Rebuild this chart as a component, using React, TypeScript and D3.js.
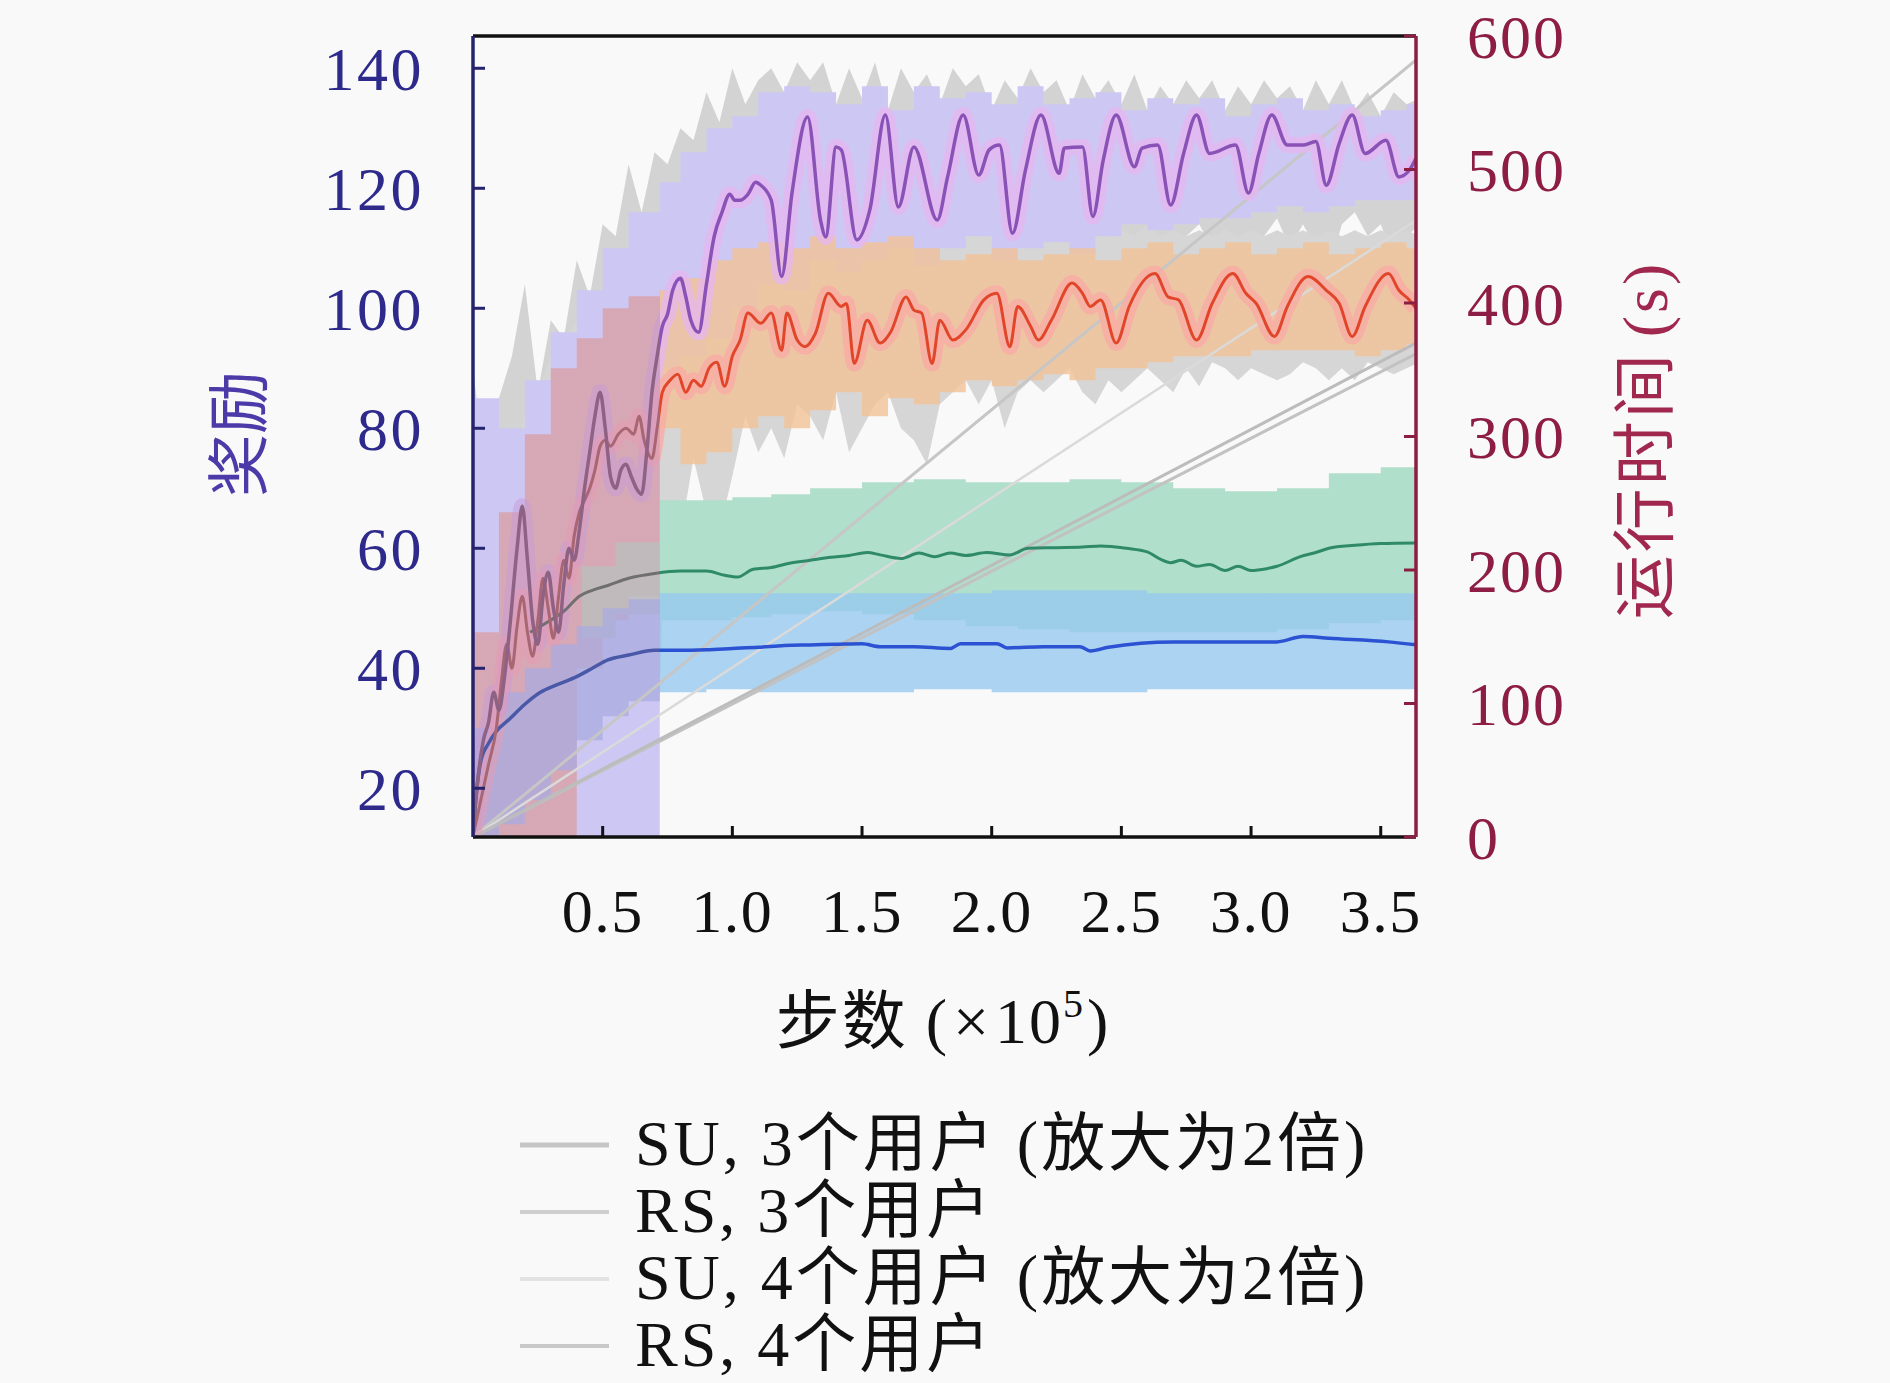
import * as d3 from "d3";

const W = 1890;
const H = 1383;
// plot rectangle in page pixels
const P = { x0: 473, x1: 1416, y0: 36, y1: 837 };
const FONT = "'Liberation Serif', 'Noto Sans CJK SC', serif";

// x in 1e5 steps; left axis reward, right axis runtime (s)
const X_DOMAIN = [0, 3.636];
const YL_DOMAIN = [11.88, 145.38];
const YR_DOMAIN = [0, 600];
const SPLIT_X = 0.72; // early segment drawn in muted colours

const YL_TICKS = [20, 40, 60, 80, 100, 120, 140];
const YR_TICKS = [0, 100, 200, 300, 400, 500, 600];
const X_TICKS = [0.5, 1.0, 1.5, 2.0, 2.5, 3.0, 3.5];

// ---- purple series (reward) ----
const PURPLE_LINE: [number, number][] = [
  [0.0, 13], [0.02, 22], [0.04, 28], [0.06, 31], [0.08, 36], [0.1, 33], [0.12, 38],
  [0.14, 46], [0.17, 60], [0.19, 67], [0.21, 58], [0.23, 48], [0.25, 44], [0.27, 52],
  [0.29, 56], [0.31, 50], [0.33, 46], [0.35, 54], [0.37, 60], [0.39, 58], [0.41, 63],
  [0.43, 70], [0.45, 76], [0.47, 82], [0.49, 86], [0.51, 80], [0.53, 72], [0.55, 70],
  [0.57, 73], [0.59, 74], [0.61, 72], [0.63, 70], [0.65, 69], [0.67, 76], [0.69, 86],
  [0.71, 92], [0.73, 97], [0.75, 99], [0.77, 103], [0.8, 105], [0.82, 102], [0.84, 98],
  [0.87, 96], [0.9, 104], [0.93, 112], [0.96, 116], [0.99, 119], [1.01, 118], [1.03, 118],
  [1.06, 119], [1.09, 121], [1.11, 120.5], [1.15, 118], [1.19, 105.3], [1.23, 119.2],
  [1.29, 131.9], [1.34, 114.7], [1.36, 111.9], [1.4, 126.9], [1.42, 126.4], [1.48, 111.4],
  [1.53, 116.4], [1.59, 132.2], [1.64, 116.9], [1.7, 126.9], [1.79, 114.7], [1.83, 121.9],
  [1.89, 132.2], [1.95, 122.2], [1.99, 126.4], [2.03, 127.2], [2.08, 112.5], [2.13, 123],
  [2.19, 132.2], [2.26, 122.5], [2.28, 126.7], [2.35, 126.9], [2.39, 115.3], [2.43, 124.7],
  [2.48, 132.2], [2.55, 123.6], [2.58, 126.7], [2.64, 127.2], [2.69, 117.2], [2.74, 125.8],
  [2.79, 132.2], [2.84, 125.8], [2.94, 127.2], [2.99, 119.2], [3.03, 125.8], [3.08, 132.2],
  [3.14, 127.2], [3.2, 127.2], [3.25, 127.8], [3.29, 120.5], [3.34, 127.5], [3.39, 132.2],
  [3.44, 125.8], [3.52, 128], [3.57, 121.9], [3.61, 123], [3.636, 125],
];
const PURPLE_BAND_X = [0, 0.1, 0.2, 0.3, 0.4, 0.5, 0.6, 0.72, 0.8, 0.9, 1.0, 1.1, 1.2, 1.3, 1.4, 1.5, 1.6, 1.7, 1.8, 1.9, 2.0, 2.1, 2.2, 2.3, 2.4, 2.5, 2.6, 2.7, 2.8, 2.9, 3.0, 3.1, 3.2, 3.3, 3.4, 3.5, 3.6, 3.64];
const PURPLE_BAND_HI = [85, 80, 88, 96, 103, 110, 116, 121, 126, 130, 132, 136, 137, 136, 134, 137, 133, 137, 135, 136, 134, 137, 134, 135, 136, 133, 135, 134, 135, 132, 134, 135, 133, 134, 132, 133, 134, 134];
const PURPLE_BAND_LO = [12, 12, 12, 12, 12, 12, 12, 90, 92, 95, 100, 104, 103, 108, 106, 108, 110, 107, 110, 112, 108, 110, 111, 109, 112, 114, 113, 114, 115, 115, 116, 117, 116, 117, 118, 118, 118, 118];
// raw min/max envelope [x, lo, hi]
const PURPLE_ENV: [number, number, number][] = [
  [0, 12, 90], [0.05, 12, 72], [0.1, 12, 85], [0.15, 12, 92], [0.2, 12, 104], [0.25, 12, 86],
  [0.3, 12, 98], [0.35, 12, 95], [0.4, 12, 108], [0.45, 12, 102], [0.5, 12, 114], [0.55, 12, 112],
  [0.6, 12, 124], [0.65, 12, 116], [0.7, 12, 126], [0.75, 72, 124], [0.8, 80, 130], [0.85, 76, 128],
  [0.9, 90, 136], [0.95, 86, 131], [1.0, 98, 140], [1.05, 92, 134], [1.1, 100, 138], [1.15, 96, 140],
  [1.2, 94, 136], [1.25, 105, 141], [1.3, 108, 138], [1.35, 100, 141], [1.4, 106, 134], [1.45, 101, 140],
  [1.5, 108, 135], [1.55, 110, 141], [1.6, 104, 133], [1.65, 100, 140], [1.7, 108, 136], [1.75, 105, 139],
  [1.8, 99, 134], [1.85, 110, 140], [1.9, 112, 137], [1.95, 106, 139], [2.0, 110, 133], [2.05, 100, 138],
  [2.1, 98, 135], [2.15, 110, 140], [2.2, 112, 136], [2.25, 106, 138], [2.3, 110, 133], [2.35, 104, 139],
  [2.4, 102, 135], [2.45, 110, 138], [2.5, 112, 134], [2.55, 108, 139], [2.6, 112, 133], [2.65, 108, 137],
  [2.7, 104, 134], [2.75, 112, 138], [2.8, 114, 135], [2.85, 110, 138], [2.9, 112, 133], [2.95, 106, 137],
  [3.0, 104, 134], [3.05, 112, 138], [3.1, 115, 135], [3.15, 110, 137], [3.2, 114, 133], [3.25, 110, 138],
  [3.3, 106, 134], [3.35, 114, 138], [3.4, 116, 133], [3.45, 112, 136], [3.5, 114, 132], [3.55, 108, 136],
  [3.6, 112, 134], [3.65, 114, 135],
];

// ---- orange/red series (reward) ----
const RED_LINE: [number, number][] = [
  [0.0, 12], [0.03, 18], [0.06, 24], [0.09, 30], [0.11, 38], [0.13, 44], [0.15, 40], [0.17, 47],
  [0.19, 52], [0.21, 46], [0.23, 42], [0.25, 48], [0.27, 55], [0.29, 50], [0.31, 45], [0.33, 52],
  [0.35, 58], [0.37, 55], [0.39, 62], [0.41, 66], [0.43, 68], [0.45, 70], [0.47, 73], [0.49, 77],
  [0.51, 78], [0.53, 77], [0.56, 79], [0.59, 80], [0.62, 79], [0.64, 82], [0.66, 78], [0.69, 75],
  [0.71, 80], [0.73, 86], [0.76, 88], [0.79, 89], [0.82, 86], [0.85, 88], [0.88, 87], [0.91, 90],
  [0.94, 91], [0.97, 87], [1.0, 92], [1.03, 94.7], [1.06, 99.2], [1.11, 97.5], [1.15, 99.2],
  [1.19, 93], [1.21, 99.2], [1.25, 94.7], [1.28, 93.6], [1.32, 95.8], [1.37, 102.5], [1.42, 100.3],
  [1.44, 100.8], [1.47, 90.8], [1.52, 98], [1.57, 94.2], [1.61, 96], [1.67, 101.9], [1.7, 99.7],
  [1.73, 99.2], [1.77, 90.8], [1.8, 98], [1.85, 94.7], [1.9, 96.4], [1.97, 101.4], [2.02, 102.5],
  [2.07, 93.6], [2.1, 100.3], [2.15, 97], [2.18, 94.7], [2.23, 98], [2.31, 104.2], [2.35, 102.5],
  [2.38, 100.3], [2.42, 101.4], [2.48, 94.2], [2.53, 100.3], [2.63, 105.8], [2.68, 101.9],
  [2.72, 101.4], [2.79, 94.7], [2.85, 100.8], [2.93, 105.8], [2.98, 102.5], [3.02, 100.8],
  [3.09, 95.3], [3.14, 100.3], [3.22, 105.3], [3.29, 103], [3.34, 100.8], [3.39, 95.3],
  [3.44, 100.3], [3.53, 105.8], [3.57, 103], [3.61, 101.4], [3.636, 100],
];
const RED_BAND_X = [0, 0.1, 0.2, 0.3, 0.4, 0.5, 0.6, 0.72, 0.8, 0.9, 1.0, 1.1, 1.2, 1.3, 1.4, 1.5, 1.6, 1.7, 1.8, 1.9, 2.0, 2.1, 2.2, 2.3, 2.4, 2.5, 2.6, 2.7, 2.8, 2.9, 3.0, 3.1, 3.2, 3.3, 3.4, 3.5, 3.6, 3.64];
const RED_BAND_HI = [46, 66, 79, 90, 95, 100, 102, 103, 105, 108, 110, 111, 110, 112, 110, 111, 112, 110, 108, 109, 110, 108, 109, 110, 108, 110, 111, 109, 110, 111, 109, 110, 111, 109, 110, 111, 110, 110];
const RED_BAND_LO = [12, 12, 12, 12, 40, 48, 52, 80, 74, 76, 80, 82, 80, 83, 86, 82, 85, 84, 86, 88, 87, 88, 89, 88, 90, 90, 91, 92, 92, 92, 93, 93, 93, 93, 92, 93, 94, 94];
const RED_ENV: [number, number, number][] = [
  [0, 12, 50], [0.05, 12, 60], [0.1, 12, 68], [0.15, 12, 74], [0.2, 12, 82], [0.25, 12, 86],
  [0.3, 12, 92], [0.35, 14, 94], [0.4, 20, 98], [0.45, 26, 100], [0.5, 34, 102], [0.55, 42, 104],
  [0.6, 48, 106], [0.65, 55, 105], [0.7, 60, 108], [0.75, 68, 110], [0.8, 62, 112], [0.85, 75, 110],
  [0.9, 66, 114], [0.95, 63, 112], [1.0, 72, 115], [1.05, 82, 113], [1.1, 76, 116], [1.15, 80, 114],
  [1.2, 75, 115], [1.25, 84, 113], [1.3, 82, 116], [1.35, 78, 114], [1.4, 86, 113], [1.45, 76, 115],
  [1.5, 80, 114], [1.55, 84, 116], [1.6, 86, 113], [1.65, 80, 115], [1.7, 78, 113], [1.75, 74, 114],
  [1.8, 84, 112], [1.85, 86, 113], [1.9, 88, 112], [1.95, 84, 114], [2.0, 88, 113], [2.05, 80, 112],
  [2.1, 86, 114], [2.15, 88, 112], [2.2, 86, 113], [2.25, 88, 112], [2.3, 90, 114], [2.35, 86, 112],
  [2.4, 84, 113], [2.45, 88, 112], [2.5, 86, 113], [2.55, 88, 112], [2.6, 90, 114], [2.65, 88, 112],
  [2.7, 86, 113], [2.75, 90, 112], [2.8, 87, 113], [2.85, 91, 112], [2.9, 90, 113], [2.95, 88, 112],
  [3.0, 90, 113], [3.05, 89, 112], [3.1, 88, 113], [3.15, 89, 112], [3.2, 91, 113], [3.25, 90, 112],
  [3.3, 88, 113], [3.35, 90, 112], [3.4, 88, 113], [3.45, 91, 112], [3.5, 90, 113], [3.55, 89, 112],
  [3.6, 90, 113], [3.65, 91, 112],
];

// ---- green series ----
const GREEN_LINE: [number, number][] = [
  [0.22, 46], [0.28, 47.5], [0.35, 49.5], [0.41, 52], [0.46, 53], [0.52, 53.8], [0.6, 55],
  [0.7, 55.8], [0.8, 56.2], [0.9, 56.2], [0.97, 55.5], [1.02, 55.2], [1.08, 56.5], [1.15, 56.8],
  [1.22, 57.5], [1.3, 58], [1.38, 58.5], [1.45, 58.8], [1.52, 59.3], [1.57, 58.9], [1.65, 58.3],
  [1.72, 59.2], [1.78, 58.6], [1.84, 59.2], [1.9, 58.8], [1.98, 59.3], [2.07, 58.9], [2.14, 60],
  [2.25, 60.1], [2.35, 60.2], [2.42, 60.4], [2.52, 60], [2.6, 59.4], [2.65, 58.2], [2.69, 57.6],
  [2.73, 58], [2.79, 57], [2.84, 57.3], [2.9, 56.3], [2.95, 57], [3.0, 56.3], [3.06, 56.6],
  [3.1, 57], [3.19, 58.6], [3.25, 59.3], [3.3, 60], [3.4, 60.5], [3.5, 60.8], [3.636, 60.9],
];
const GREEN_BAND_X = [0.42, 0.55, 0.72, 0.85, 1.0, 1.15, 1.3, 1.5, 1.7, 1.9, 2.1, 2.3, 2.5, 2.7, 2.9, 3.1, 3.3, 3.5, 3.64];
const GREEN_BAND_HI = [57, 61, 68, 68, 68.5, 69, 70, 71, 71.5, 71, 71, 71.5, 71, 70, 69.5, 70, 72.5, 73.5, 73.5];
const GREEN_BAND_LO = [45, 49, 48, 48, 48.5, 49, 49.5, 49, 48, 47, 46.5, 46, 46, 46, 46, 46.5, 47.5, 48, 48];

// ---- blue series ----
const BLUE_LINE: [number, number][] = [
  [0.0, 12], [0.015, 20], [0.03, 24.5], [0.06, 27.5], [0.09, 29.5], [0.14, 31.5], [0.2, 34],
  [0.26, 36], [0.32, 37.2], [0.4, 38.6], [0.46, 40], [0.52, 41.4], [0.6, 42.2], [0.7, 43],
  [0.8, 43], [0.9, 43.1], [1.0, 43.3], [1.1, 43.5], [1.2, 43.8], [1.3, 43.9], [1.4, 44],
  [1.5, 44.1], [1.57, 43.6], [1.7, 43.6], [1.84, 43.3], [1.88, 44.1], [2.02, 44.1], [2.06, 43.4],
  [2.2, 43.6], [2.34, 43.6], [2.38, 42.9], [2.45, 43.5], [2.7, 44.4], [3.0, 44.4], [3.1, 44.4],
  [3.2, 45.3], [3.3, 45], [3.53, 44.4], [3.636, 43.9],
];
const BLUE_BAND_X = [0, 0.1, 0.2, 0.3, 0.4, 0.5, 0.6, 0.72, 0.9, 1.1, 1.4, 1.7, 2.0, 2.3, 2.6, 2.9, 3.2, 3.5, 3.64];
const BLUE_BAND_HI = [30, 36, 40, 44, 47, 50, 51.5, 52.5, 52.5, 52.5, 52.5, 52.5, 53, 53, 52.5, 52.5, 52.5, 52.5, 52.5];
const BLUE_BAND_LO = [12, 14, 18, 23, 28, 32, 34.5, 36, 36.5, 36, 36, 36.5, 36, 36, 36.5, 36.5, 36.5, 36.5, 36.5];

// ---- runtime lines (right axis) ----
const RUNTIME = [
  { name: "SU, 3个用户", note: "(放大为2倍)", pts: [[0, 0], [3.636, 582]], color: "#c6c6c6", width: 3 },
  { name: "RS, 3个用户", note: "", pts: [[0, 0], [3.636, 362]], color: "#c2c2c2", width: 3 },
  { name: "SU, 4个用户", note: "(放大为2倍)", pts: [[0, 0], [3.636, 462]], color: "#dadada", width: 2.5 },
  { name: "RS, 4个用户", note: "", pts: [[0, 0], [3.636, 370]], color: "#bcbcbc", width: 3 },
] as { name: string; note: string; pts: [number, number][]; color: string; width: number }[];

const LEGEND_SWATCH = ["#c6c6c6", "#cfcfcf", "#e3e3e3", "#c9c9c9"];

function zip3(xs: number[], lo: number[], hi: number[]): [number, number, number][] {
  return xs.map((x, i) => [x, lo[i], hi[i]]);
}

export default function App() {
  const iw = P.x1 - P.x0;
  const ih = P.y1 - P.y0;
  const x = d3.scaleLinear().domain(X_DOMAIN).range([0, iw]);
  const yL = d3.scaleLinear().domain(YL_DOMAIN).range([ih, 0]);
  const yR = d3.scaleLinear().domain(YR_DOMAIN).range([ih, 0]);
  const split = x(SPLIT_X) / iw;

  const stepArea = d3
    .area<[number, number, number]>()
    .x((d) => x(d[0]))
    .y0((d) => yL(d[1]))
    .y1((d) => yL(d[2]))
    .curve(d3.curveStepAfter);
  const envArea = d3
    .area<[number, number, number]>()
    .x((d) => x(d[0]))
    .y0((d) => yL(d[1]))
    .y1((d) => yL(d[2]));
  const smooth = d3
    .line<[number, number]>()
    .x((d) => x(d[0]))
    .y((d) => yL(d[1]))
    .curve(d3.curveMonotoneX);
  const rtLine = d3
    .line<[number, number]>()
    .x((d) => x(d[0]))
    .y((d) => yR(d[1]));

  // two-colour horizontal gradients: early segment / rest
  const grads: [string, string, number, string, number][] = [
    ["gPurpleBand", "#cdc7f3", 1, "#cdc7f3", 1],
    ["gRedBand", "#da9c9e", 0.72, "#f2c296", 0.8],
    ["gGreenBand", "#bdbdbd", 0.85, "#b0dfcb", 1],
    ["gBlueBand", "#a9abe0", 0.75, "#97c9f0", 0.79],
    ["gPurpleHalo", "#c79ad8", 0.5, "#e6b6f0", 0.75],
    ["gRedHalo", "#e79ab0", 0.5, "#f8aca4", 0.8],
    ["gPurpleLine", "#8d6284", 1, "#8a52b6", 1],
    ["gRedLine", "#a86672", 1, "#e2462a", 1],
    ["gGreenLine", "#6f6f6f", 1, "#2f8a68", 1],
    ["gBlueLine", "#4a58a8", 1, "#2a52d2", 1],
  ];

  return (
    <div style={{ position: "absolute", left: 0, top: 0, width: W, height: H, background: "#f9f9f9" }}>
      <svg width={W} height={H} style={{ display: "block", fontFamily: FONT }}>
        <defs>
          <clipPath id="plotClip">
            <rect x={0} y={0} width={iw} height={ih} />
          </clipPath>
          {grads.map(([id, c0, o0, c1, o1]) => (
            <linearGradient key={id} id={id} gradientUnits="userSpaceOnUse" x1={0} y1={0} x2={iw} y2={0}>
              <stop offset={0} stopColor={c0} stopOpacity={o0} />
              <stop offset={split} stopColor={c0} stopOpacity={o0} />
              <stop offset={split} stopColor={c1} stopOpacity={o1} />
              <stop offset={1} stopColor={c1} stopOpacity={o1} />
            </linearGradient>
          ))}
        </defs>

        <g transform={`translate(${P.x0},${P.y0})`}>
          <g clipPath="url(#plotClip)">
            {/* raw envelopes */}
            <path d={envArea(PURPLE_ENV) ?? ""} fill="#d3d3d3" />
            <path d={envArea(RED_ENV) ?? ""} fill="#d6d6d6" />
            {/* std bands */}
            <path d={stepArea(zip3(PURPLE_BAND_X, PURPLE_BAND_LO, PURPLE_BAND_HI)) ?? ""} fill="url(#gPurpleBand)" />
            <path d={stepArea(zip3(RED_BAND_X, RED_BAND_LO, RED_BAND_HI)) ?? ""} fill="url(#gRedBand)" />
            <path d={stepArea(zip3(GREEN_BAND_X, GREEN_BAND_LO, GREEN_BAND_HI)) ?? ""} fill="url(#gGreenBand)" />
            <path d={stepArea(zip3(BLUE_BAND_X, BLUE_BAND_LO, BLUE_BAND_HI)) ?? ""} fill="url(#gBlueBand)" />

            {/* runtime lines */}
            {RUNTIME.map((r) => (
              <path key={r.name + r.color} d={rtLine(r.pts) ?? ""} fill="none" stroke={r.color} strokeWidth={r.width} />
            ))}

            {/* halos */}
            <path d={smooth(PURPLE_LINE) ?? ""} fill="none" stroke="url(#gPurpleHalo)" strokeWidth={16} strokeLinejoin="round" />
            <path d={smooth(RED_LINE) ?? ""} fill="none" stroke="url(#gRedHalo)" strokeWidth={16} strokeLinejoin="round" />

            {/* mean lines */}
            <path d={smooth(BLUE_LINE) ?? ""} fill="none" stroke="url(#gBlueLine)" strokeWidth={3.5} />
            <path d={smooth(GREEN_LINE) ?? ""} fill="none" stroke="url(#gGreenLine)" strokeWidth={3} />
            <path d={smooth(RED_LINE) ?? ""} fill="none" stroke="url(#gRedLine)" strokeWidth={3} />
            <path d={smooth(PURPLE_LINE) ?? ""} fill="none" stroke="url(#gPurpleLine)" strokeWidth={3.5} />
          </g>

          {/* frame */}
          <line x1={0} y1={0} x2={iw} y2={0} stroke="#111" strokeWidth={3.5} />
          <line x1={0} y1={ih} x2={iw} y2={ih} stroke="#111" strokeWidth={3.5} />
          <line x1={0} y1={0} x2={0} y2={ih} stroke="#25236e" strokeWidth={3.5} />
          <line x1={iw} y1={0} x2={iw} y2={ih} stroke="#8b1e42" strokeWidth={3.5} />

          {/* left axis */}
          {YL_TICKS.map((t) => (
            <g key={`yl-${t}`} transform={`translate(0,${yL(t)})`}>
              <line x1={0} x2={12} stroke="#25236e" strokeWidth={3} />
              <text x={-49} dy="0.35em" textAnchor="end" fontSize={62} letterSpacing={2.5} fill="#2e2a8c">
                {t}
              </text>
            </g>
          ))}
          {/* right axis */}
          {YR_TICKS.map((t) => (
            <g key={`yr-${t}`} transform={`translate(${iw},${yR(t)})`}>
              <line x1={0} x2={-12} stroke="#8b1e42" strokeWidth={3} />
              <text x={51} dy="0.35em" textAnchor="start" fontSize={62} letterSpacing={2} fill="#8e1d45">
                {t}
              </text>
            </g>
          ))}
          {/* bottom axis */}
          {X_TICKS.map((t) => (
            <g key={`x-${t}`} transform={`translate(${x(t)},${ih})`}>
              <line y1={0} y2={-11} stroke="#111" strokeWidth={3} />
              <text y={95} textAnchor="middle" fontSize={62} letterSpacing={1.5} fill="#111">
                {t.toFixed(1)}
              </text>
            </g>
          ))}
        </g>

        {/* axis titles */}
        <text x={943} y={1043} textAnchor="middle" fontSize={64} letterSpacing={2} fill="#111">
          步数 (<tspan dx={4}>×</tspan>
          <tspan dx={4}>10</tspan>
          <tspan dy={-26} fontSize={40}>5</tspan>
          <tspan dy={26} dx={2}>)</tspan>
        </text>
        <text
          transform="translate(240,434) rotate(-90)"
          textAnchor="middle"
          dominantBaseline="central"
          fontSize={63}
          fill="#4b3aa8"
        >
          奖励
        </text>
        <text
          transform="translate(1645,440) rotate(-90)"
          textAnchor="middle"
          dominantBaseline="central"
          fontSize={64}
          letterSpacing={3}
          fill="#a0284f"
        >
          运行时间<tspan dx={14}>(s)</tspan>
        </text>

        {/* legend */}
        {RUNTIME.map((r, i) => {
          const base = 1165 + i * 67;
          return (
            <g key={`lg-${i}`}>
              <line x1={520} x2={609} y1={base - 20} y2={base - 20} stroke={LEGEND_SWATCH[i]} strokeWidth={i === 0 ? 5 : 4} />
              <text x={635} y={base} fontSize={64} letterSpacing={3} fill="#111">
                {r.name}
                {r.note && <tspan dx={20}>{r.note}</tspan>}
              </text>
            </g>
          );
        })}
      </svg>
    </div>
  );
}
